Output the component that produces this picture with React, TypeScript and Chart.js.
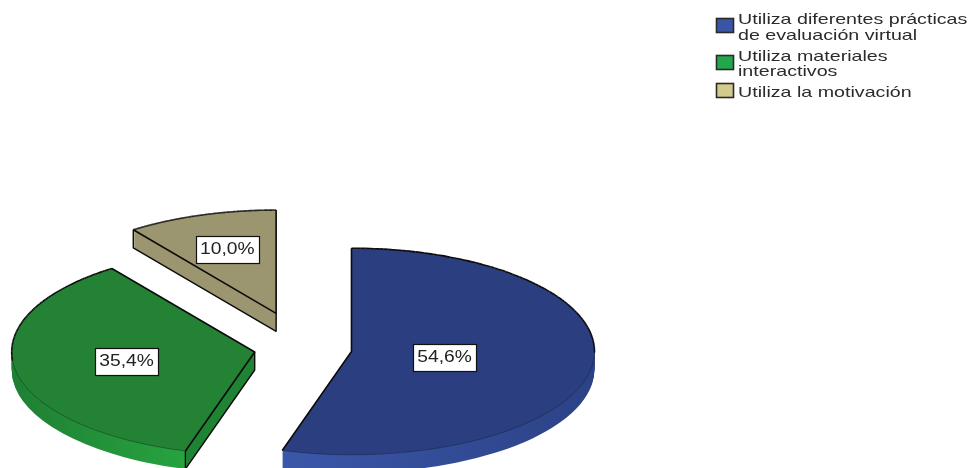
import React, { useEffect, useRef } from "react";
import { Chart, registerables } from "chart.js";

Chart.register(...registerables);

// Data
const categories: string[][] = [
  ["Utiliza diferentes prácticas", "de evaluación virtual"],
  ["Utiliza materiales", "interactivos"],
  ["Utiliza la motivación"],
];
const percentages = [54.6, 35.4, 10.0];

// Styles
const topColors = ["#2b3f80", "#248234", "#9b9670"];
const wallStops = [
  [[0, "#3b57a9"], [1, "#2c4286"]],
  [[0, "#1f7f33"], [0.72, "#27a340"], [0.725, "#1e8433"], [1, "#1e8433"]],
  [[0, "#9b9670"], [1, "#9b9670"]],
] as [number, string][][];
const legendColors = ["#3a55a5", "#22a84a", "#d2cb8c"];
const explode = [49, 49, 87];
const labelFraction = [0.387, 0.535, 0.65];
const legendSwatchY = [18, 55, 83];
const legendLineY = [[20, 36], [57, 72], [93]];

const SQUASH = 0.425;
const DEPTH = 18;
const RADIUS = 243;

const pie3d = {
  id: "pie3d",
  beforeDatasetDraw(chart: any) {
    const ctx: CanvasRenderingContext2D = chart.ctx;
    const meta = chart.getDatasetMeta(0);
    for (let i = meta.data.length - 1; i >= 0; i--) {
      const el: any = meta.data[i];
      const mid = (el.startAngle + el.endAngle) / 2;
      const ax = el.x + Math.cos(mid) * explode[i];
      const ay = el.y + Math.sin(mid) * explode[i] * SQUASH;
      const rx = el.outerRadius;
      const ry = el.outerRadius * SQUASH;
      const saved = el.options;

      // side wall
      const grad = ctx.createLinearGradient(ax - rx - (ax - el.x), 0, ax + rx - (ax - el.x), 0);
      let stops = wallStops[i];
      if (i === 0) {
        const g0 = Math.cos(el.endAngle) * rx;
        grad.addColorStop(0, stops[0][1]);
        grad.addColorStop(Math.max(0, (g0 + rx) / (2 * rx)), stops[0][1]);
        grad.addColorStop(1, stops[1][1]);
      } else if (i === 1) {
        const f = (Math.cos(el.startAngle) * rx + rx) / (2 * rx);
        grad.addColorStop(0, stops[0][1]);
        grad.addColorStop(f, stops[1][1]);
        grad.addColorStop(Math.min(1, f + 0.004), stops[2][1]);
        grad.addColorStop(1, stops[3][1]);
      } else {
        stops.forEach(([o, c]) => grad.addColorStop(o, c));
      }
      const wallOpts = Object.create(saved);
      wallOpts.backgroundColor = grad;
      wallOpts.borderWidth = 0;
      const drawAt = (depth: number, opts: any) => {
        ctx.save();
        ctx.translate(ax, ay + depth);
        ctx.scale(1, SQUASH);
        ctx.translate(-el.x, -el.y);
        el.options = opts;
        el.draw(ctx);
        ctx.restore();
      };
      for (let d = DEPTH; d > 0; d--) drawAt(d, wallOpts);
      drawAt(0, saved);
      el.options = saved;

      // outlines
      const pt = (a: number) => [ax + Math.cos(a) * rx, ay + Math.sin(a) * ry];
      ctx.save();
      ctx.lineJoin = "round";
      ctx.strokeStyle = "#0b0b0b";
      ctx.lineWidth = 1.6;
      const [sx, sy] = pt(el.startAngle);
      const [ex, ey] = pt(el.endAngle);
      ctx.beginPath();
      ctx.moveTo(sx, sy);
      ctx.lineTo(ax, ay);
      ctx.lineTo(ex, ey);
      ctx.stroke();

      // back part of the rim: black; front part: thin
      const TAU = Math.PI * 2;
      const n = 180;
      for (let k = 0; k < n; k++) {
        const a = el.startAngle + ((el.endAngle - el.startAngle) * k) / n;
        const b = el.startAngle + ((el.endAngle - el.startAngle) * (k + 1)) / n;
        const norm = ((a % TAU) + TAU) % TAU;
        const back = norm > Math.PI * 0.97;
        ctx.beginPath();
        ctx.ellipse(ax, ay, rx, ry, 0, a, b);
        ctx.strokeStyle = back ? "#0b0b0b" : "rgba(10,20,20,0.45)";
        ctx.lineWidth = back ? 1.6 : 0.8;
        ctx.stroke();
      }

      // visible cut wall
      ctx.strokeStyle = "#0b0b0b";
      ctx.lineWidth = 1.4;
      const wallAt = (x: number, y: number) => {
        ctx.beginPath();
        ctx.moveTo(ax, ay);
        ctx.lineTo(ax, ay + DEPTH);
        ctx.lineTo(x, y + DEPTH);
        ctx.lineTo(x, y);
        ctx.stroke();
      };
      if (-Math.cos(el.startAngle) > 0.01) wallAt(sx, sy);
      if (Math.cos(el.endAngle) > 0.01) wallAt(ex, ey);
      ctx.restore();
    }

    // value labels
    for (let i = 0; i < meta.data.length; i++) {
      const el: any = meta.data[i];
      const mid = (el.startAngle + el.endAngle) / 2;
      const rr = el.outerRadius * labelFraction[i];
      const cx = el.x + Math.cos(mid) * (explode[i] + rr);
      const cy = el.y + Math.sin(mid) * (explode[i] + rr) * SQUASH;
      const w = 63;
      const h = 27;
      const bx = Math.round(cx - w / 2) + 0.5;
      const by = Math.round(cy - h / 2) + 0.5;
      ctx.save();
      ctx.fillStyle = "#ffffff";
      ctx.strokeStyle = "#111111";
      ctx.lineWidth = 1.2;
      ctx.fillRect(bx, by, w, h);
      ctx.strokeRect(bx, by, w, h);
      ctx.translate(cx, cy + 0.5);
      ctx.scale(1.2, 1);
      ctx.font = "16px 'Liberation Sans'";
      ctx.fillStyle = "#222222";
      ctx.textAlign = "center";
      ctx.textBaseline = "middle";
      ctx.fillText(percentages[i].toFixed(1).replace(".", ",") + "%", 0, 0);
      ctx.restore();
    }
    return false;
  },
  afterDraw(chart: any) {
    const ctx: CanvasRenderingContext2D = chart.ctx;
    const labels: string[][] = chart.data.labels;
    labels.forEach((lines, i) => {
      ctx.save();
      ctx.fillStyle = legendColors[i];
      ctx.strokeStyle = "#2a2a2a";
      ctx.lineWidth = 1.6;
      ctx.fillRect(716.5, legendSwatchY[i] + 0.5, 17, 14);
      ctx.strokeRect(716.5, legendSwatchY[i] + 0.5, 17, 14);
      ctx.restore();
      lines.forEach((line, j) => {
        ctx.save();
        ctx.translate(738, legendLineY[i][j]);
        ctx.scale(1.31, 1);
        ctx.font = "15px 'Liberation Sans'";
        ctx.fillStyle = "#2b2b2b";
        ctx.textAlign = "left";
        ctx.textBaseline = "middle";
        ctx.fillText(line, 0, 0);
        ctx.restore();
      });
    });
  },
};

export default function App() {
  const ref = useRef<HTMLCanvasElement>(null);
  useEffect(() => {
    document.body.style.margin = "0";
    document.body.style.background = "#ffffff";
    const chart = new Chart(ref.current as HTMLCanvasElement, {
      type: "pie",
      data: {
        labels: categories as any,
        datasets: [
          {
            data: percentages,
            backgroundColor: topColors,
            borderWidth: 0,
            radius: RADIUS,
          } as any,
        ],
      },
      options: {
        responsive: false,
        animation: false,
        layout: { padding: { left: 0, right: 364, top: 229, bottom: 0 } },
        plugins: { legend: { display: false }, tooltip: { enabled: false } },
      },
      plugins: [pie3d as any],
    });
    return () => chart.destroy();
  }, []);
  return <canvas ref={ref} width={970} height={468} style={{ display: "block", filter: "blur(0.45px)" }} />;
}
